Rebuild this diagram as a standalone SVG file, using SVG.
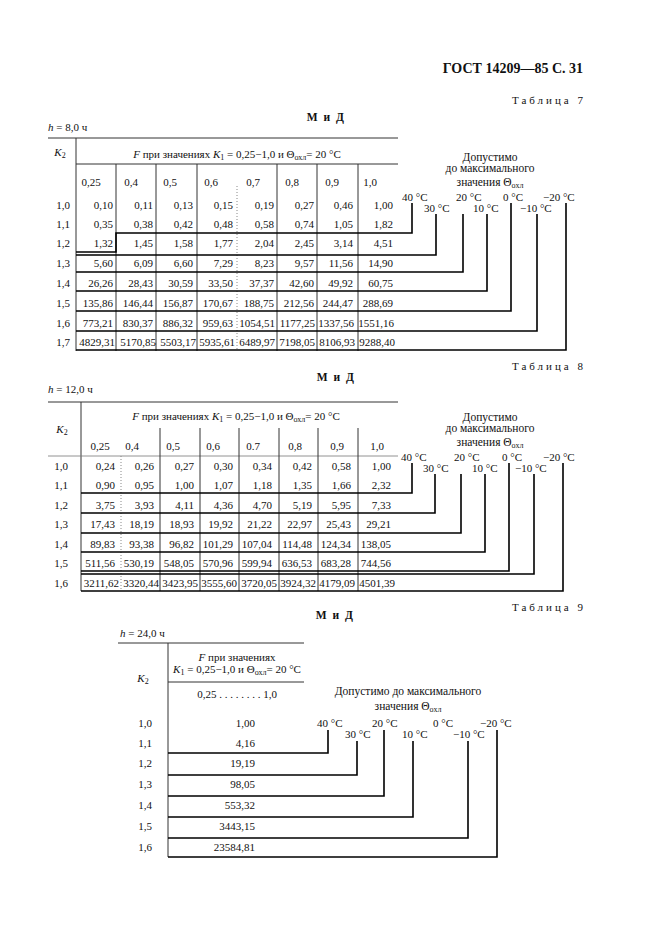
<svg xmlns="http://www.w3.org/2000/svg" width="661" height="936" viewBox="0 0 661 936">
<style>
text { font-family: "Liberation Serif", "DejaVu Serif", serif; font-size: 11px; fill: #111; }
.title { font-size: 14px; font-weight: bold; text-anchor: end; }
.tab { text-anchor: end; letter-spacing: 3px; }
.mid { font-weight: bold; font-size: 11.5px; text-anchor: middle; letter-spacing: 1.5px; }
.c { text-anchor: middle; }
.e { text-anchor: end; }
.leg { font-size: 11.5px; text-anchor: middle; }
.i { font-style: italic; }
.sub { font-size: 8px; }
.grid { stroke: #333; stroke-width: 1; fill: none; }
.thin { stroke: #777; stroke-width: 0.8; fill: none; }
.dot { stroke: #888; stroke-width: 1; stroke-dasharray: 1 2; fill: none; }
.step { stroke: #000; stroke-width: 1.6; fill: none; }
</style>
<rect width="661" height="936" fill="#fff"/>

<text class="title" x="583" y="73">ГОСТ 14209—85 С. 31</text>

<!-- ================= TABLE 7 ================= -->
<g id="table7">
  <text class="tab" x="586" y="104">Таблица 7</text>
  <text class="mid" x="326" y="121">М и Д</text>
  <text x="48" y="131"><tspan class="i">h</tspan> = 8,0 ч</text>
  <g id="t7-grid">
    <path class="grid" d="M48,138 H398 M76,138 V351 M76,164 H398"/>
    <path class="grid" d="M116,164 V351 M156,164 V351 M197,164 V351 M277,164 V351 M317,164 V351 M358,164 V351"/>
    <path class="dot" d="M237,186 V351"/>
  </g>
  <text class="c" x="60" y="156"><tspan class="i">K</tspan><tspan class="sub" dy="2">2</tspan></text>
  <text class="c" x="237" y="158"><tspan class="i">F</tspan> при значениях <tspan class="i">K</tspan><tspan class="sub" dy="2">1</tspan><tspan dy="-2"> = 0,25−1,0 и Θ</tspan><tspan class="sub" dy="2">охл</tspan><tspan dy="-2">= 20 °C</tspan></text>
  <g id="t7-cols">
    <text class="c" x="91" y="186">0,25</text>
    <text class="c" x="131" y="186">0,4</text>
    <text class="c" x="170" y="186">0,5</text>
    <text class="c" x="211" y="186">0,6</text>
    <text class="c" x="253" y="186">0,7</text>
    <text class="c" x="292" y="186">0,8</text>
    <text class="c" x="332" y="186">0,9</text>
    <text class="c" x="370" y="186">1,0</text>
  </g>
  <g id="t7-k2">
    <text class="c" x="63" y="209">1,0</text>
    <text class="c" x="63" y="228">1,1</text>
    <text class="c" x="63" y="247">1,2</text>
    <text class="c" x="63" y="267">1,3</text>
    <text class="c" x="63" y="287">1,4</text>
    <text class="c" x="63" y="307">1,5</text>
    <text class="c" x="63" y="327">1,6</text>
    <text class="c" x="63" y="346">1,7</text>
  </g>
  <g id="t7-values">
    <text class="e" x="113" y="209">0,10</text><text class="e" x="153" y="209">0,11</text><text class="e" x="193" y="209">0,13</text><text class="e" x="233" y="209">0,15</text><text class="e" x="274" y="209">0,19</text><text class="e" x="314" y="209">0,27</text><text class="e" x="353" y="209">0,46</text><text class="e" x="393" y="209">1,00</text>
    <text class="e" x="113" y="228">0,35</text><text class="e" x="153" y="228">0,38</text><text class="e" x="193" y="228">0,42</text><text class="e" x="233" y="228">0,48</text><text class="e" x="274" y="228">0,58</text><text class="e" x="314" y="228">0,74</text><text class="e" x="353" y="228">1,05</text><text class="e" x="393" y="228">1,82</text>
    <text class="e" x="113" y="247">1,32</text><text class="e" x="153" y="247">1,45</text><text class="e" x="193" y="247">1,58</text><text class="e" x="233" y="247">1,77</text><text class="e" x="274" y="247">2,04</text><text class="e" x="314" y="247">2,45</text><text class="e" x="353" y="247">3,14</text><text class="e" x="393" y="247">4,51</text>
    <text class="e" x="113" y="267">5,60</text><text class="e" x="153" y="267">6,09</text><text class="e" x="193" y="267">6,60</text><text class="e" x="233" y="267">7,29</text><text class="e" x="274" y="267">8,23</text><text class="e" x="314" y="267">9,57</text><text class="e" x="353" y="267">11,56</text><text class="e" x="393" y="267">14,90</text>
    <text class="e" x="113" y="287">26,26</text><text class="e" x="153" y="287">28,43</text><text class="e" x="193" y="287">30,59</text><text class="e" x="233" y="287">33,50</text><text class="e" x="274" y="287">37,37</text><text class="e" x="314" y="287">42,60</text><text class="e" x="353" y="287">49,92</text><text class="e" x="393" y="287">60,75</text>
    <text class="e" x="113" y="307">135,86</text><text class="e" x="153" y="307">146,44</text><text class="e" x="193" y="307">156,87</text><text class="e" x="233" y="307">170,67</text><text class="e" x="274" y="307">188,75</text><text class="e" x="314" y="307">212,56</text><text class="e" x="353" y="307">244,47</text><text class="e" x="393" y="307">288,69</text>
    <text class="e" x="113" y="327">773,21</text><text class="e" x="153" y="327">830,37</text><text class="e" x="193" y="327">886,32</text><text class="e" x="233" y="327">959,63</text><text class="e" x="275" y="327">1054,51</text><text class="e" x="315" y="327">1177,25</text><text class="e" x="354" y="327">1337,56</text><text class="e" x="394" y="327">1551,16</text>
    <text class="e" x="115" y="346">4829,31</text><text class="e" x="156" y="346">5170,85</text><text class="e" x="196" y="346">5503,17</text><text class="e" x="235" y="346">5935,61</text><text class="e" x="275" y="346">6489,97</text><text class="e" x="315" y="346">7198,05</text><text class="e" x="355" y="346">8106,93</text><text class="e" x="395" y="346">9288,40</text>
  </g>
  <g id="t7-legend">
    <text class="leg" x="490" y="161">Допустимо</text>
    <text class="leg" x="490" y="172">до максимального</text>
    <text class="leg" x="490" y="186">значения Θ<tspan class="sub" dy="2">охл</tspan></text>
    <text x="402" y="201">40 °C</text>
    <text x="456" y="201">20 °C</text>
    <text x="503" y="201">0 °C</text>
    <text x="543" y="201">−20 °C</text>
    <text x="424" y="212">30 °C</text>
    <text x="473" y="212">10 °C</text>
    <text x="520" y="212">−10 °C</text>
  </g>
  <g id="t7-connectors">
    <path class="step" d="M76,252 H116 V233 H412 V203"/>
    <path class="step" d="M76,255 H436 V214"/>
    <path class="step" d="M76,272 H463 V214"/>
    <path class="step" d="M76,291 H487 V214"/>
    <path class="step" d="M76,311 H511 V203"/>
    <path class="step" d="M76,331 H537 V214"/>
    <path class="step" d="M76,350 H566 V203"/>
  </g>
</g>

<!-- ================= TABLE 8 ================= -->
<g id="table8">
  <text class="tab" x="586" y="370">Таблица 8</text>
  <text class="mid" x="336" y="381">М и Д</text>
  <text x="48" y="393"><tspan class="i">h</tspan> = 12,0 ч</text>
  <g id="t8-grid">
    <path class="grid" d="M48,402 H398 M81,402 V591"/>
    <path class="thin" d="M48,456 H398"/>
    <path class="grid" d="M160,428 V591 M200,428 V591 M239,428 V591 M279,428 V591 M318,428 V591 M358,428 V591"/>
    <path class="dot" d="M121,456 V591"/>
  </g>
  <text class="c" x="62" y="433"><tspan class="i">K</tspan><tspan class="sub" dy="2">2</tspan></text>
  <text class="c" x="236" y="420"><tspan class="i">F</tspan> при значениях <tspan class="i">K</tspan><tspan class="sub" dy="2">1</tspan><tspan dy="-2"> = 0,25−1,0 и Θ</tspan><tspan class="sub" dy="2">охл</tspan><tspan dy="-2">= 20 °C</tspan></text>
  <g id="t8-cols">
    <text class="c" x="100" y="450">0,25</text>
    <text class="c" x="132" y="450">0,4</text>
    <text class="c" x="173" y="450">0,5</text>
    <text class="c" x="213" y="450">0,6</text>
    <text class="c" x="253" y="450">0.7</text>
    <text class="c" x="295" y="450">0,8</text>
    <text class="c" x="337" y="450">0,9</text>
    <text class="c" x="377" y="450">1,0</text>
  </g>
  <g id="t8-k2">
    <text class="c" x="61" y="470">1,0</text>
    <text class="c" x="61" y="489">1,1</text>
    <text class="c" x="61" y="509">1,2</text>
    <text class="c" x="61" y="528">1,3</text>
    <text class="c" x="61" y="548">1,4</text>
    <text class="c" x="61" y="567">1,5</text>
    <text class="c" x="61" y="587">1,6</text>
  </g>
  <g id="t8-values">
    <text class="e" x="115" y="470">0,24</text><text class="e" x="154" y="470">0,26</text><text class="e" x="194" y="470">0,27</text><text class="e" x="233" y="470">0,30</text><text class="e" x="272" y="470">0,34</text><text class="e" x="312" y="470">0,42</text><text class="e" x="351" y="470">0,58</text><text class="e" x="391" y="470">1,00</text>
    <text class="e" x="115" y="489">0,90</text><text class="e" x="154" y="489">0,95</text><text class="e" x="194" y="489">1,00</text><text class="e" x="233" y="489">1,07</text><text class="e" x="272" y="489">1,18</text><text class="e" x="312" y="489">1,35</text><text class="e" x="351" y="489">1,66</text><text class="e" x="391" y="489">2,32</text>
    <text class="e" x="115" y="509">3,75</text><text class="e" x="154" y="509">3,93</text><text class="e" x="194" y="509">4,11</text><text class="e" x="233" y="509">4,36</text><text class="e" x="272" y="509">4,70</text><text class="e" x="312" y="509">5,19</text><text class="e" x="351" y="509">5,95</text><text class="e" x="391" y="509">7,33</text>
    <text class="e" x="115" y="528">17,43</text><text class="e" x="154" y="528">18,19</text><text class="e" x="194" y="528">18,93</text><text class="e" x="233" y="528">19,92</text><text class="e" x="272" y="528">21,22</text><text class="e" x="312" y="528">22,97</text><text class="e" x="351" y="528">25,43</text><text class="e" x="391" y="528">29,21</text>
    <text class="e" x="115" y="548">89,83</text><text class="e" x="154" y="548">93,38</text><text class="e" x="194" y="548">96,82</text><text class="e" x="233" y="548">101,29</text><text class="e" x="272" y="548">107,04</text><text class="e" x="312" y="548">114,48</text><text class="e" x="351" y="548">124,34</text><text class="e" x="391" y="548">138,05</text>
    <text class="e" x="115" y="567">511,56</text><text class="e" x="154" y="567">530,19</text><text class="e" x="194" y="567">548,05</text><text class="e" x="233" y="567">570,96</text><text class="e" x="272" y="567">599,94</text><text class="e" x="312" y="567">636,53</text><text class="e" x="351" y="567">683,28</text><text class="e" x="391" y="567">744,56</text>
    <text class="e" x="119" y="587">3211,62</text><text class="e" x="159" y="587">3320,44</text><text class="e" x="198" y="587">3423,95</text><text class="e" x="237" y="587">3555,60</text><text class="e" x="277" y="587">3720,05</text><text class="e" x="316" y="587">3924,32</text><text class="e" x="355" y="587">4179,09</text><text class="e" x="395" y="587">4501,39</text>
  </g>
  <g id="t8-legend">
    <text class="leg" x="490" y="421">Допустимо</text>
    <text class="leg" x="490" y="432">до максимального</text>
    <text class="leg" x="490" y="446">значения Θ<tspan class="sub" dy="2">охл</tspan></text>
    <text x="401" y="461">40 °C</text>
    <text x="454" y="461">20 °C</text>
    <text x="502" y="461">0 °C</text>
    <text x="543" y="461">−20 °C</text>
    <text x="423" y="472">30 °C</text>
    <text x="472" y="472">10 °C</text>
    <text x="515" y="472">−10 °C</text>
  </g>
  <g id="t8-connectors">
    <path class="step" d="M81,493 H412 V463"/>
    <path class="step" d="M81,513 H435 V474"/>
    <path class="step" d="M81,533 H461 V474"/>
    <path class="step" d="M81,552 H485 V474"/>
    <path class="step" d="M81,571 H509 V463"/>
    <path class="step" d="M81,574 H534 V474"/>
    <path class="step" d="M81,591 H563 V463"/>
  </g>
</g>

<!-- ================= TABLE 9 ================= -->
<g id="table9">
  <text class="tab" x="586" y="611">Таблица 9</text>
  <text class="mid" x="335" y="619">М и Д</text>
  <text x="120" y="637"><tspan class="i">h</tspan> = 24,0 ч</text>
  <g id="t9-grid">
    <path class="grid" d="M118,643 H304 M168,643 V857 M168,682 H304"/>
  </g>
  <text class="c" x="143" y="682"><tspan class="i">K</tspan><tspan class="sub" dy="2">2</tspan></text>
  <text class="c" x="237" y="661"><tspan class="i">F</tspan> при значениях</text>
  <text class="c" x="237" y="673"><tspan class="i">K</tspan><tspan class="sub" dy="2">1</tspan><tspan dy="-2"> = 0,25−1,0 и Θ</tspan><tspan class="sub" dy="2">охл</tspan><tspan dy="-2">= 20 °C</tspan></text>
  <text class="c" x="237" y="698">0,25 . . . . . . . . 1,0</text>
  <g id="t9-k2">
    <text class="c" x="145" y="727">1,0</text>
    <text class="c" x="145" y="747">1,1</text>
    <text class="c" x="145" y="767">1,2</text>
    <text class="c" x="145" y="788">1,3</text>
    <text class="c" x="145" y="809">1,4</text>
    <text class="c" x="145" y="830">1,5</text>
    <text class="c" x="145" y="851">1,6</text>
  </g>
  <g id="t9-values">
    <text class="e" x="255" y="727">1,00</text>
    <text class="e" x="255" y="747">4,16</text>
    <text class="e" x="255" y="767">19,19</text>
    <text class="e" x="255" y="788">98,05</text>
    <text class="e" x="255" y="809">553,32</text>
    <text class="e" x="255" y="830">3443,15</text>
    <text class="e" x="255" y="851">23584,81</text>
  </g>
  <g id="t9-legend">
    <text class="leg" x="408" y="695">Допустимо до максимального</text>
    <text class="leg" x="408" y="710">значения Θ<tspan class="sub" dy="2">охл</tspan></text>
    <text x="317" y="727">40 °C</text>
    <text x="372" y="727">20 °C</text>
    <text x="433" y="727">0 °C</text>
    <text x="480" y="727">−20 °C</text>
    <text x="345" y="738">30 °C</text>
    <text x="402" y="738">10 °C</text>
    <text x="453" y="738">−10 °C</text>
  </g>
  <g id="t9-connectors">
    <path class="step" d="M168,753 H328 V730"/>
    <path class="step" d="M168,775 H357 V741"/>
    <path class="step" d="M168,796 H384 V730"/>
    <path class="step" d="M168,817 H413 V741"/>
    <path class="step" d="M168,838 H468 V741"/>
    <path class="step" d="M168,857 H497 V730"/>
  </g>
</g>
</svg>
